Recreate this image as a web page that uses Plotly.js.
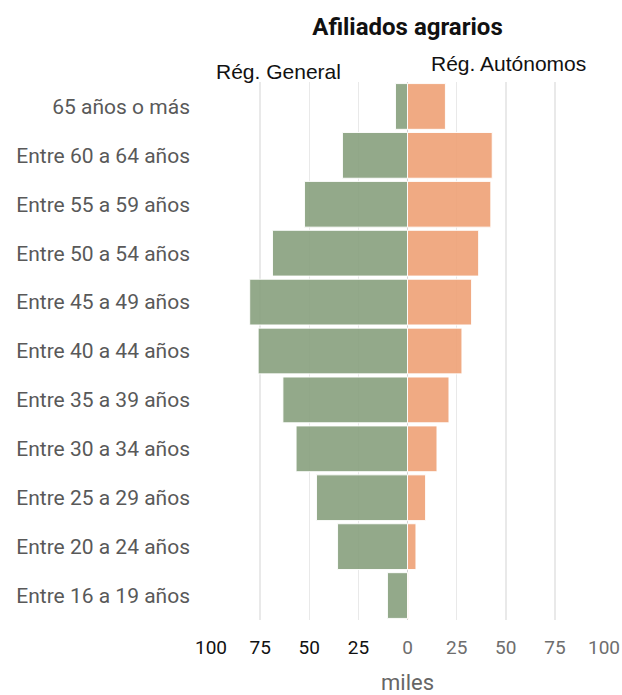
<!DOCTYPE html>
<html>
<head>
<meta charset="utf-8">
<script src="https://cdn.plot.ly/plotly-3.0.1.min.js"></script>
<style>html,body{margin:0;padding:0;background:#fff;}#chart{width:622px;height:695px;}</style>
</head>
<body>
<div id="chart"></div>
<script>
// Categories, top to bottom
const categories = [
  "65 años o más",
  "Entre 60 a 64 años",
  "Entre 55 a 59 años",
  "Entre 50 a 54 años",
  "Entre 45 a 49 años",
  "Entre 40 a 44 años",
  "Entre 35 a 39 años",
  "Entre 30 a 34 años",
  "Entre 25 a 29 años",
  "Entre 20 a 24 años",
  "Entre 16 a 19 años"
];
// miles (thousands)
const regGeneral   = [6.1, 33.1, 52.4, 68.7, 80.3, 76.0, 63.4, 56.7, 46.3, 35.6, 10.2];
const regAutonomos = [19.3, 43.1, 42.4, 36.2, 32.6, 27.7, 21.1, 15.0, 9.2, 4.3, 0.4];
const tickVals  = [-100, -75, -50, -25, 0, 25, 50, 75, 100];
const tickTexts = ["100", "75", "50", "25", "0", "25", "50", "75", "100"];

const leftColor = "#111111", rightColor = "#6e6e6e";
const tickTextStyled = tickTexts.map((t, i) =>
  '<span style="color:' + (tickVals[i] < 0 ? leftColor : rightColor) + '">' + t + '</span>');

const traces = [
  {
    type: "bar", orientation: "h", name: "Rég. General",
    y: categories, x: regGeneral.map(v => -v),
    marker: {color: "rgba(135,160,125,0.9)", line: {color: "rgba(255,255,255,0.9)", width: 1}},
    hoverinfo: "skip"
  },
  {
    type: "bar", orientation: "h", name: "Rég. Autónomos",
    y: categories, x: regAutonomos,
    marker: {color: "rgba(238,161,118,0.9)", line: {color: "rgba(255,255,255,0.9)", width: 1}},
    hoverinfo: "skip"
  }
];

const layout = {
  width: 622, height: 695,
  margin: {l: 211, r: 18, t: 82, b: 75},
  paper_bgcolor: "#fff", plot_bgcolor: "#fff",
  showlegend: false,
  barmode: "overlay",
  bargap: 0.065,
  font: {family: "Roboto, 'Open Sans', sans-serif", color: "#595959"},
  title: {
    text: "<b>Afiliados agrarios</b>",
    font: {family: "Roboto, sans-serif", size: 24, color: "#111"},
    x: 0.5, xanchor: "center", xref: "paper",
    y: 0.962, yanchor: "middle", yref: "container"
  },
  xaxis: {
    range: [-100, 100],
    tickmode: "array", tickvals: tickVals, ticktext: tickTextStyled,
    tickfont: {size: 19, family: "Roboto, sans-serif"},
    showgrid: true, gridcolor: "#e9e9e9", gridwidth: 1.5,
    zeroline: true, zerolinecolor: "#d4d4d4", zerolinewidth: 1.5,
    showline: false, ticks: "",
    ticklabelstandoff: 14,
    title: {text: "miles", font: {size: 22, color: "#666", family: "Roboto, sans-serif"}, standoff: 20},
    fixedrange: true
  },
  yaxis: {
    type: "category",
    categoryorder: "array", categoryarray: categories,
    autorange: "reversed",
    tickfont: {size: 21, color: "#595959", family: "Roboto, sans-serif"},
    showgrid: false, zeroline: false, showline: false, ticks: "",
    ticklabelstandoff: 20,
    fixedrange: true
  },
  annotations: [
    {text: "Rég. General", xref: "paper", yref: "paper", x: 0.171, y: (620 - 71.5) / 538, xanchor: "center", yanchor: "middle",
     showarrow: false, font: {family: "Liberation Sans, Arial, sans-serif", size: 21, color: "#111"}},
    {text: "Rég. Autónomos", xref: "paper", yref: "paper", x: 0.756, y: (620 - 63.5) / 538, xanchor: "center", yanchor: "middle",
     showarrow: false, font: {family: "Liberation Sans, Arial, sans-serif", size: 21, color: "#111"}}
  ]
};

Plotly.newPlot("chart", traces, layout, {displayModeBar: false, staticPlot: true});
</script>
</body>
</html>
